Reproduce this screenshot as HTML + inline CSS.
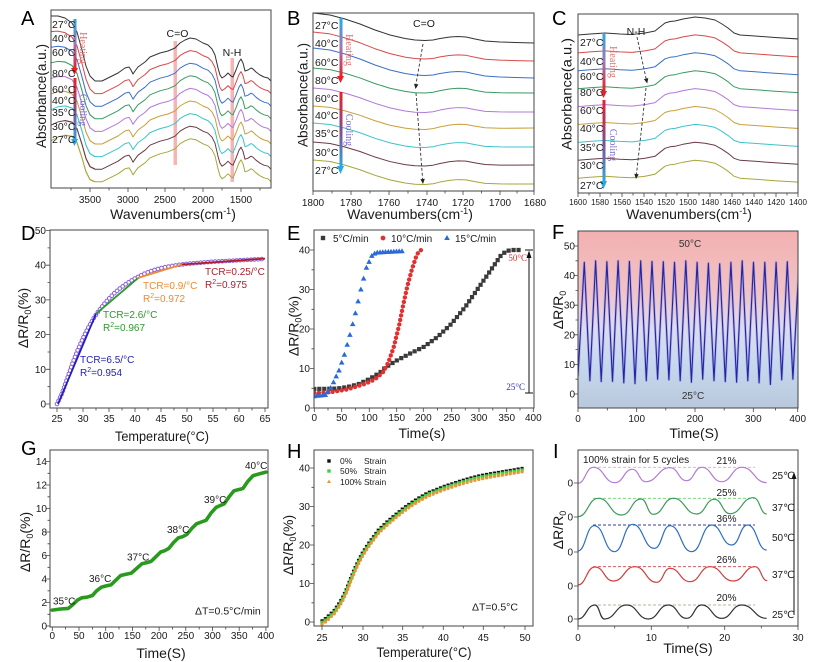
<!DOCTYPE html>
<html><head><meta charset="utf-8">
<style>
html,body{margin:0;padding:0;background:#fff;width:832px;height:662px;overflow:hidden}
svg{display:block}
text{font-family:"Liberation Sans",Arial,sans-serif;fill:#1a1a1a}
.tk{font-size:10px}
.tk8{font-size:8px}
.ax{font-size:14px}
.L{font-size:20px;fill:#000}
.lb{font-size:10.5px}
.sr{font-family:"Liberation Serif",serif}
.dg{font-family:"Liberation Sans","DejaVu Sans",sans-serif}
</style></head><body>
<svg width="832" height="662" viewBox="0 0 832 662" xmlns="http://www.w3.org/2000/svg">
<defs>
<clipPath id="cA"><rect x="51" y="10" width="220" height="178"/></clipPath>
<clipPath id="cB"><rect x="313" y="13" width="221" height="178"/></clipPath>
<clipPath id="cC"><rect x="578" y="14" width="220" height="179"/></clipPath>
<clipPath id="cD"><rect x="50" y="230" width="218" height="178"/></clipPath>
<clipPath id="cE"><rect x="314" y="230" width="220" height="178"/></clipPath>
<clipPath id="cF"><rect x="578" y="231" width="220" height="177"/></clipPath>
<clipPath id="cG"><rect x="50" y="450" width="218" height="177"/></clipPath>
<clipPath id="cH"><rect x="314" y="450" width="219" height="176"/></clipPath>
<clipPath id="cI"><rect x="578" y="450" width="220" height="176"/></clipPath>
<linearGradient id="gHeat" x1="0" y1="0" x2="0" y2="1"><stop offset="0" stop-color="#2aa8e6"/><stop offset="0.5" stop-color="#9a7ab8"/><stop offset="1" stop-color="#e8202a"/></linearGradient>
<linearGradient id="gCool" x1="0" y1="0" x2="0" y2="1"><stop offset="0" stop-color="#e8202a"/><stop offset="0.5" stop-color="#8a4a8a"/><stop offset="1" stop-color="#2aa8e6"/></linearGradient>
<linearGradient id="gF" x1="0" y1="0" x2="0" y2="1"><stop offset="0" stop-color="#f2b0b0"/><stop offset="0.35" stop-color="#f1c3c6"/><stop offset="0.55" stop-color="#dddcee"/><stop offset="0.75" stop-color="#c7d8ee"/><stop offset="1" stop-color="#b9c8dc"/></linearGradient>
<marker id="tri" viewBox="-3 -3 6 6" markerWidth="6" markerHeight="6" markerUnits="userSpaceOnUse" refX="0" refY="0" orient="0"><polygon points="0,-3 -2.8,2 2.8,2" fill="#2a6ad8"/></marker>
<path id="paL" d="M51,16 L58,16 65,18 72,23 77,32 82,50 86,66 90,76 95,81"/>
<path id="paR" d="M95,81 L102,81 110,77 118,73 125,68 129,67 131,70 133,74 135,71 138,67 145,62 150,57 155,55 160,53 168,51 175,48 180,43 185,40 190,38 196,39 203,43 208,45 212,49 215,55 218,68 220,75 222,78 225,76 228,73 231,76 233,77 236,70 239,62 241,59 243,63 245,71 248,70 251,68 253,69 256,72 260,75 264,77 268,78 272,82"/>
<path id="pb" d="M313,13 L330,15 345,19 360,24 375,30 390,35 405,38.5 415,40 425,40.5 433,40 440,38.5 450,37 458,36.5 466,37 475,39 485,41 500,42 515,42.5 535,43"/>
<path id="pc" d="M578,35 L590,34 605,33 620,34 632,34.5 645,33 655,31 660,27 665,23 670,21.5 675,21 683,19 695,17 705,18 715,20 722,24 728,28 734,33 740,35 755,36 775,37.5 799,39"/>
<path id="pd" d="M57,404 L62.2,392.9 67.4,378 72.6,363.1 77.8,349.9 83,338.1 88.2,327.7 93.4,318.6 98.6,311 103.8,304.4 109,298.5 114.2,293.3 119.4,288.8 124.6,285 129.8,281.5 135,278.4 145.4,273.2 155.8,269.4 166.2,266.9 176.6,265.2 187,263.8 213,261.7 239,260.3 265,258.9"/>
<path id="ph" d="M322,620.8 L326.1,618.2 330.1,614.3 334.2,610.5 338.2,604.7 342.3,598.1 346.4,589.3 350.4,578.9 354.5,568.9 358.5,560.4 362.6,552.7 366.7,546.2 370.7,540.4 374.8,535 378.8,529.6 387,521.9 395.1,515 403.2,508.4 411.3,502.7 419.4,497.6 427.6,493 443.8,486.5 460,481.1 476.3,476.5 492.5,473.4 508.8,470.7 525,468"/>
<polyline id="fw" points="578,376.2 584.3,262.3 589.9,380.7 595.6,260.8 601.2,381.6 606.9,261.7 612.5,381.3 618.1,260.8 623.8,382.8 629.4,261.4 635,383.6 640.7,260.8 646.3,380.7 652,261.4 657.6,379.2 663.3,261.7 668.9,379.8 674.5,262.3 680.2,380.7 685.8,260.8 691.4,382.2 697.1,262.3 702.7,379.2 708.4,263.2 714,380.7 719.7,263.8 725.3,381.6 730.9,262.3 736.6,382.2 742.2,260.8 747.8,380.7 753.5,262.3 759.1,382.8 764.8,262.3 770.4,384.5 776.1,262.3 781.7,379.8 787.3,261.7 792.9,379.2 799,263.8"/>
</defs>

<rect x="578" y="231" width="220" height="177" fill="url(#gF)"/>

<!-- ticks -->
<path fill="none" stroke="#444" stroke-width="0.8" d="
M90,188v4M128,188v4M165,188v4M203,188v4M241,188v4
M71,188v2.5M109,188v2.5M146.5,188v2.5M184,188v2.5M222,188v2.5M260,188v2.5
M313,191v4M351,191v4M389,191v4M427,191v4M463,191v4M500,191v4M534,191v4
M332,191v2.5M370,191v2.5M408,191v2.5M445,191v2.5M481.5,191v2.5M517,191v2.5
M578,193v4M600,193v4M622,193v4M644,193v4M666,193v4M688,193v4M710,193v4M732,193v4M754,193v4M776,193v4M798,193v4
M589,193v2.5M611,193v2.5M633,193v2.5M655,193v2.5M677,193v2.5M699,193v2.5M721,193v2.5M743,193v2.5M765,193v2.5M787,193v2.5
M57,408v4M83,408v4M109,408v4M135,408v4M161,408v4M187,408v4M213,408v4M239,408v4M265,408v4
M70,408v2.5M96,408v2.5M122,408v2.5M148,408v2.5M174,408v2.5M200,408v2.5M226,408v2.5M252,408v2.5
M50,404h-4M50,369.3h-4M50,334.6h-4M50,299.9h-4M50,265.2h-4M50,230.5h-4
M50,386.7h-2.5M50,352h-2.5M50,317.3h-2.5M50,282.6h-2.5M50,247.9h-2.5
M314.3,408v4M341.7,408v4M369.3,408v4M396.7,408v4M423.3,408v4M451.7,408v4M479,408v4M506.7,408v4M533.3,408v4
M328,408v2.5M355.5,408v2.5M383,408v2.5M410,408v2.5M437.5,408v2.5M465.3,408v2.5M492.8,408v2.5M520,408v2.5
M314,408h-4M314,368.5h-4M314,329h-4M314,289.5h-4M314,250h-4
M314,388.3h-2.5M314,348.8h-2.5M314,309.3h-2.5M314,269.8h-2.5
M578,408v4M636.7,408v4M695,408v4M753.3,408v4M797.7,408v4
M607.3,408v2.5M665.8,408v2.5M724.2,408v2.5M775.5,408v2.5
M578,394h-4M578,364.4h-4M578,334.8h-4M578,305.2h-4M578,275.6h-4M578,246h-4
M578,379.2h-2.5M578,349.6h-2.5M578,320h-2.5M578,290.4h-2.5M578,260.8h-2.5
M52.3,627v4M79,627v4M105.7,627v4M132.4,627v4M159.1,627v4M185.8,627v4M212.5,627v4M239.2,627v4M265.9,627v4
M65.6,627v2.5M92.4,627v2.5M119,627v2.5M145.8,627v2.5M172.4,627v2.5M199.2,627v2.5M225.8,627v2.5M252.6,627v2.5
M50,626h-4M50,602.5h-4M50,579h-4M50,555.5h-4M50,532h-4M50,508.5h-4M50,485h-4M50,461.5h-4
M50,614.3h-2.5M50,590.8h-2.5M50,567.3h-2.5M50,543.8h-2.5M50,520.3h-2.5M50,496.8h-2.5M50,473.3h-2.5
M322,626v4M363,626v4M402.7,626v4M443.3,626v4M483.3,626v4M525,626v4
M342.5,626v2.5M382.8,626v2.5M423,626v2.5M463.3,626v2.5M504.2,626v2.5
M314,622h-4M314,583.5h-4M314,545h-4M314,506.5h-4M314,468h-4
M314,602.8h-2.5M314,564.3h-2.5M314,525.8h-2.5M314,487.3h-2.5
M578,626v4M651.3,626v4M724.7,626v4M798,626v4
M614.7,626v2.5M688,626v2.5M761.3,626v2.5
M578,483h-4M578,517h-4M578,552h-4M578,586h-4M578,619h-4"/>

<!-- ===== A curves ===== -->
<g clip-path="url(#cA)" fill="none" stroke-width="1" stroke-linejoin="round">
<rect x="173.5" y="41" width="3.5" height="124" fill="#f5b5b5"/>
<rect x="230.5" y="58" width="3.5" height="124" fill="#f5b5b5"/>
<use href="#paR" stroke="#a8a63a" transform="translate(0,100.8)"/>
<use href="#paL" stroke="#a8a63a" transform="matrix(1,-0.545455,0,1,0,152.618)"/>
<use href="#paR" stroke="#6b3a44" transform="translate(0,88.2)"/>
<use href="#paL" stroke="#6b3a44" transform="matrix(1,-0.477273,0,1,0,133.541)"/>
<use href="#paR" stroke="#3cc4cc" transform="translate(0,75.6)"/>
<use href="#paL" stroke="#3cc4cc" transform="matrix(1,-0.409091,0,1,0,114.464)"/>
<use href="#paR" stroke="#c9a03c" transform="translate(0,63)"/>
<use href="#paL" stroke="#c9a03c" transform="matrix(1,-0.340909,0,1,0,95.386)"/>
<use href="#paR" stroke="#b27ad8" transform="translate(0,50.4)"/>
<use href="#paL" stroke="#b27ad8" transform="matrix(1,-0.272727,0,1,0,76.309)"/>
<use href="#paR" stroke="#3a9a62" transform="translate(0,37.8)"/>
<use href="#paL" stroke="#3a9a62" transform="matrix(1,-0.204545,0,1,0,57.232)"/>
<use href="#paR" stroke="#3b6fc8" transform="translate(0,25.2)"/>
<use href="#paL" stroke="#3b6fc8" transform="matrix(1,-0.136364,0,1,0,38.155)"/>
<use href="#paR" stroke="#d84a4a" transform="translate(0,12.6)"/>
<use href="#paL" stroke="#d84a4a" transform="matrix(1,-0.068182,0,1,0,19.077)"/>
<use href="#paR" stroke="#333333"/>
<use href="#paL" stroke="#333333"/>
</g>

<!-- ===== B curves ===== -->
<g clip-path="url(#cB)" fill="none" stroke-width="1" stroke-linejoin="round">
<use href="#pb" stroke="#a8a63a" transform="matrix(1,-0.027149,0,1,0,155.498)"/>
<use href="#pb" stroke="#6b3a44" transform="matrix(1,-0.031674,0,1,0,138.914)"/>
<use href="#pb" stroke="#3cc4cc" transform="matrix(1,-0.027149,0,1,0,118.498)"/>
<use href="#pb" stroke="#c9a03c" transform="matrix(1,-0.036199,0,1,0,104.33)"/>
<use href="#pb" stroke="#b27ad8" transform="matrix(1,-0.027149,0,1,0,83.498)"/>
<use href="#pb" stroke="#3a9a62" transform="matrix(1,-0.022624,0,1,0,62.081)"/>
<use href="#pb" stroke="#3b6fc8" transform="translate(0,35)"/>
<use href="#pb" stroke="#d84a4a" transform="matrix(1,-0.004525,0,1,0,20.416)"/>
<use href="#pb" stroke="#333333"/>
<path d="M423,44L416,84" stroke="#333" stroke-width="0.9" stroke-dasharray="3,2"/>
<polygon points="415.5,89 414.1,83.7 418.5,84.5" fill="#222" stroke="none"/>
<path d="M416,93L422.6,179" stroke="#333" stroke-width="0.9" stroke-dasharray="3,2"/>
<polygon points="423,184 420.4,179.2 424.8,178.8" fill="#222" stroke="none"/>
</g>

<!-- ===== C curves ===== -->
<g clip-path="url(#cC)" fill="none" stroke-width="1" stroke-linejoin="round">
<use href="#pc" stroke="#a8a63a" transform="translate(0,143.2)"/>
<use href="#pc" stroke="#6b3a44" transform="translate(0,125.3)"/>
<use href="#pc" stroke="#3cc4cc" transform="translate(0,107.4)"/>
<use href="#pc" stroke="#c9a03c" transform="translate(0,89.5)"/>
<use href="#pc" stroke="#b27ad8" transform="translate(0,71.6)"/>
<use href="#pc" stroke="#3a9a62" transform="translate(0,53.7)"/>
<use href="#pc" stroke="#3b6fc8" transform="translate(0,35.8)"/>
<use href="#pc" stroke="#d84a4a" transform="translate(0,17.9)"/>
<use href="#pc" stroke="#333333"/>
<path d="M637,37L646.1,78.6" stroke="#333" stroke-width="0.9" stroke-dasharray="3,2"/>
<polygon points="647.2,83.5 643.9,79.1 648.3,78.1" fill="#222" stroke="none"/>
<path d="M646,88L636.5,174" stroke="#333" stroke-width="0.9" stroke-dasharray="3,2"/>
<polygon points="636,179 634.3,173.8 638.7,174.2" fill="#222" stroke="none"/>
</g>

<!-- ===== D data ===== -->
<g clip-path="url(#cD)" fill="none">
<use href="#pd" stroke="#8a60d8" stroke-width="4.6" stroke-linecap="round" stroke-dasharray="0 3.6"/>
<use href="#pd" stroke="#ffffff" stroke-width="2.6" stroke-linecap="round" stroke-dasharray="0 3.6"/>
<line x1="58" y1="404" x2="96" y2="313.8" stroke="#2020c0" stroke-width="1.8"/>
<line x1="96" y1="313.8" x2="137.6" y2="278.4" stroke="#2a9a2a" stroke-width="1.8"/>
<line x1="137.6" y1="278" x2="181.8" y2="264.5" stroke="#f08a30" stroke-width="1.8"/>
<line x1="181.8" y1="264.5" x2="265" y2="258.6" stroke="#b01c2c" stroke-width="1.8"/>
</g>

<!-- ===== E data ===== -->
<g clip-path="url(#cE)" fill="none">
<path d="M314.3,389 L336.2,388.6 347.2,387.1 358.1,384.3 369.1,379.2 380.1,372.5 385.5,367.3 396.5,360.6 410.2,353.5 423.9,346.8 437.6,336.9 451.3,323.9 465,307.3 478.7,287.5 489.7,271.7 500.6,255.9 506.1,251.2 511.6,250 519.8,250" stroke="#3a3a3a" stroke-width="4.2" stroke-linecap="square" stroke-dasharray="0 5"/>
<path d="M314.3,393 L330.7,392.2 347.2,389.4 363.6,384.3 374.6,379.6 382.8,372.5 388.3,362.6 393.8,346.8 399.2,325 403.1,305.3 407.5,285.6 411.8,269.8 415.7,257.9 418.4,252 421.2,250" stroke="#e03030" stroke-width="4.4" stroke-linecap="round" stroke-dasharray="0 4.6"/>
<polyline stroke="none" marker-start="url(#tri)" marker-mid="url(#tri)" marker-end="url(#tri)" points="314.3,396.2 317,395.8 319.8,395.6 322.5,395.3 325.3,395 328,392 330.7,388 333.5,382.3 336.2,376.4 339,370.5 341.7,362.6 344.4,354.7 347.2,344.8 349.9,334.9 352.7,324.1 355.4,313.2 358.1,301.4 360.9,289.5 363.6,278.6 366.4,267.8 369.1,261.9 371.8,255.9 374.6,253.6 377.3,252.6 380.1,252.4 382.8,252.2 385.5,252 388.3,251.9 391,251.7 393.8,251.6 396.5,251.5 399.2,251.3 402,251.2"/>
</g>
<rect x="320.8" y="235.8" width="4.4" height="4.4" fill="#3a3a3a"/>
<circle cx="383" cy="238" r="2.4" fill="#e03030"/>
<polygon points="447,235 444.2,240 449.8,240" fill="#2a6ad8"/>
<g stroke="#111" stroke-width="1">
<line x1="529" y1="256" x2="529" y2="393"/>
<line x1="525" y1="250" x2="533" y2="250"/>
<line x1="525" y1="393" x2="533" y2="393"/>
</g>
<polygon points="529,250.5 526.5,258 531.5,258" fill="#111"/>

<!-- ===== F wave ===== -->
<g clip-path="url(#cF)" fill="none" stroke-linejoin="round">
<use href="#fw" stroke="#8a8ae0" stroke-width="2.6" stroke-opacity="0.45"/>
<use href="#fw" stroke="#2424a0" stroke-width="1.1"/>
</g>

<!-- ===== G curve ===== -->
<g clip-path="url(#cG)" fill="none">
<polyline points="52.3,610.1 60.3,609 68.3,608.4 72.6,604.9 77.4,600.2 81.7,597.8 87,597.2 92.4,595.5 96.6,590.8 101.4,587.2 105.7,586 111,584.9 115.8,580.2 120.7,575.5 126,574.3 131.3,573.1 136.7,568.4 142,563.7 146.8,562.6 151.1,561.4 155.9,556.7 160.7,552 164.4,550.8 168.7,548.5 173.5,542.6 178.3,537.9 182.6,536.7 186.9,534.4 191.7,528.5 196.5,523.8 201.3,522 206.1,520.3 210.9,513.2 216.2,507.3 220,505.6 224.2,503.8 229.1,496.8 233.9,490.9 238.1,489.7 242.9,488.5 247.7,481.5 253.1,475.6 259.5,473.8 265.9,472.1" stroke="#2a9a1e" stroke-width="3.6" stroke-linecap="round" stroke-linejoin="round"/>
</g>

<!-- ===== H data ===== -->
<g clip-path="url(#cH)" fill="none">
<use href="#ph" stroke="#111" stroke-width="3.2" stroke-linecap="square" stroke-dasharray="0 4"/>
<use href="#ph" stroke="#3ad33a" stroke-width="3.2" stroke-linecap="square" stroke-dasharray="0 4" transform="translate(0,1.5)"/>
<use href="#ph" stroke="#e8963a" stroke-width="3.4" stroke-linecap="round" stroke-dasharray="0 4" transform="translate(0,3.3)"/>
</g>
<rect x="327.3" y="459.3" width="3.4" height="3.4" fill="#111"/>
<rect x="327.3" y="469.3" width="3.4" height="3.4" fill="#3ad33a"/>
<polygon points="329,479.5 327,483 331,483" fill="#e8963a"/>

<!-- ===== I curves ===== -->
<g clip-path="url(#cI)">
<g stroke-width="0.9" stroke-dasharray="3,2">
<line x1="593" y1="467.3" x2="755" y2="467.3" stroke="#d3a8ec"/>
<line x1="593" y1="498.3" x2="755" y2="498.3" stroke="#66d466"/>
<line x1="593" y1="525" x2="755" y2="525" stroke="#3a3aa0"/>
<line x1="593" y1="566.7" x2="755" y2="566.7" stroke="#d04040"/>
<line x1="593" y1="605" x2="755" y2="605" stroke="#b0b8a0"/>
</g>
<g transform="translate(555,435) scale(0.333333)" fill="none" stroke-width="3.6">
<path stroke="#b27ad8" d="M68,145 C91.5,145 91.5,97 115,97 C147.5,97 147.5,143 180,143 C206,143 206,103 232,103 C252,103 252,140 272,140 C308.5,140 308.5,98 345,98 C370,98 370,137 395,137 C417.5,137 417.5,97 440,97 C470,97 470,140 500,140 C530,140 530,97 560,97 C597.5,97 597.5,143 635,143"/>
<path stroke="#3a9a5a" d="M68,245 C99,245 99,190 130,190 C165,190 165,240 200,240 C229,240 229,192 258,192 C276.5,192 276.5,238 295,238 C325,238 325,190 355,190 C390,190 390,237 425,237 C451.5,237 451.5,193 478,193 C501.5,193 501.5,236 525,236 C560,236 560,188 595,188 C615,188 615,237 635,237"/>
<path stroke="#2f6ec2" d="M68,348 C93,348 93,272 118,272 C148,272 148,350 178,350 C205.5,350 205.5,268 233,268 C265.5,268 265.5,340 298,340 C321.5,340 321.5,272 345,272 C377.5,272 377.5,350 410,350 C440,350 440,270 470,270 C500,270 500,330 530,330 C554,330 554,270 578,270 C606.5,270 606.5,345 635,345"/>
<path stroke="#d33d3d" d="M68,450 C94,450 94,396 120,396 C147.5,396 147.5,438 175,438 C207.5,438 207.5,395 240,395 C272.5,395 272.5,442 305,442 C325,442 325,400 345,400 C375,400 375,440 405,440 C435,440 435,395 465,395 C500,395 500,438 535,438 C567.5,438 567.5,395 600,395 C618.5,395 618.5,437 637,437"/>
<path stroke="#333333" d="M68,552 C94,552 94,510 120,510 C134,510 134,552 148,552 C181.5,552 181.5,510 215,510 C247.5,510 247.5,552 280,552 C310,552 310,510 340,510 C367.5,510 367.5,550 395,550 C417.5,550 417.5,510 440,510 C470,510 470,550 500,550 C530,550 530,510 560,510 C597.5,510 597.5,550 635,550"/>
</g>
</g>
<line x1="794" y1="615" x2="794" y2="478" stroke="#111" stroke-width="1"/>
<polygon points="794,472 791.5,479 796.5,479" fill="#111"/>

<!-- frames -->
<g fill="none" stroke="#444" stroke-width="1">
<rect x="51" y="10" width="220" height="178"/>
<rect x="313" y="13" width="221" height="178"/>
<rect x="578" y="14" width="220" height="179"/>
<rect x="50" y="230" width="218" height="178"/>
<rect x="314" y="230" width="220" height="178"/>
<rect x="578" y="231" width="220" height="177"/>
<rect x="50" y="450" width="218" height="177"/>
<rect x="314" y="450" width="219" height="176"/>
<rect x="578" y="450" width="220" height="176"/>
</g>

<!-- panel letters -->
<text class="L" x="21" y="25">A</text>
<text class="L" x="287" y="25">B</text>
<text class="L" x="552" y="25">C</text>
<text class="L" x="21" y="240">D</text>
<text class="L" x="287" y="240">E</text>
<text class="L" x="552" y="239">F</text>
<text class="L" x="21" y="455">G</text>
<text class="L" x="287" y="458">H</text>
<text class="L" x="553" y="458">I</text>

<!-- ===== A ===== -->
<rect x="73.5" y="19" width="3" height="50" fill="url(#gHeat)"/>
<polygon points="71,68 78,68 74.5,75" fill="#e8202a"/>
<rect x="73.5" y="78" width="3" height="62" fill="url(#gCool)"/>
<polygon points="71,139 78,139 74.5,146" fill="#2aa8e6"/>
<text class="sr" font-size="10" style="fill:#e07070" transform="translate(80,48) rotate(90)" text-anchor="middle">Heating</text>
<text class="sr" font-size="10" style="fill:#7a6ad0" transform="translate(80,110) rotate(90)" text-anchor="middle">Cooling</text>
<g class="lb">
<text x="52" y="28">27°C</text><text x="52" y="42">40°C</text><text x="52" y="56">60°C</text>
<text x="52" y="77">80°C</text><text x="52" y="93">60°C</text><text x="52" y="104">40°C</text>
<text x="52" y="116">35°C</text><text x="52" y="130">30°C</text><text x="52" y="143">27°C</text>
</g>
<text class="lb" x="177.5" y="37" text-anchor="middle">C=O</text>
<text class="lb" x="232" y="56" text-anchor="middle">N-H</text>
<g class="tk" text-anchor="middle">
<text x="90" y="203">3500</text><text x="128" y="203">3000</text><text x="165" y="203">2500</text><text x="203" y="203">2000</text><text x="241" y="203">1500</text>
</g>
<text class="ax" x="173" y="219" text-anchor="middle">Wavenumbers(cm<tspan font-size="9" dy="-5">-1</tspan><tspan dy="5">)</tspan></text>
<text class="ax" transform="translate(46,96) rotate(-90)" text-anchor="middle" textLength="104" lengthAdjust="spacingAndGlyphs">Absorbance(a.u.)</text>

<!-- ===== B ===== -->
<rect x="339.5" y="18" width="3" height="58" fill="url(#gHeat)"/>
<polygon points="337,76 344,76 340.5,83" fill="#e8202a"/>
<rect x="339.5" y="92" width="3" height="75" fill="url(#gCool)"/>
<polygon points="337,166 344,166 340.5,174" fill="#2aa8e6"/>
<text class="sr" font-size="10" style="fill:#e07070" transform="translate(346,50) rotate(90)" text-anchor="middle">Heating</text>
<text class="sr" font-size="10" style="fill:#7a6ad0" transform="translate(346,130) rotate(90)" text-anchor="middle">Cooling</text>
<g class="lb">
<text x="315" y="29">27°C</text><text x="315" y="47">40°C</text><text x="315" y="66">60°C</text>
<text x="315" y="84">80°C</text><text x="315" y="102">60°C</text><text x="315" y="119">40°C</text>
<text x="315" y="137">35°C</text><text x="315" y="156">30°C</text><text x="315" y="174">27°C</text>
</g>
<text class="lb" x="424" y="27" text-anchor="middle">C=O</text>
<g class="tk" text-anchor="middle">
<text x="313" y="206">1800</text><text x="351" y="206">1780</text><text x="389" y="206">1760</text><text x="427" y="206">1740</text><text x="463" y="206">1720</text><text x="500" y="206">1700</text><text x="535" y="206">1680</text>
</g>
<text class="ax" x="410" y="219" text-anchor="middle">Wavenumbers(cm<tspan font-size="9" dy="-5">-1</tspan><tspan dy="5">)</tspan></text>
<text class="ax" transform="translate(307.5,95) rotate(-90)" text-anchor="middle" textLength="104" lengthAdjust="spacingAndGlyphs">Absorbance(a.u.)</text>

<!-- ===== C ===== -->
<rect x="602.5" y="33" width="3" height="58" fill="url(#gHeat)"/>
<polygon points="600,91 607,91 603.5,98" fill="#e8202a"/>
<rect x="602.5" y="100" width="3" height="82" fill="url(#gCool)"/>
<polygon points="600,181 607,181 603.5,189" fill="#2aa8e6"/>
<text class="sr" font-size="10" style="fill:#e07070" transform="translate(610,62) rotate(90)" text-anchor="middle">Heating</text>
<text class="sr" font-size="10" style="fill:#7a6ad0" transform="translate(610,145) rotate(90)" text-anchor="middle">Cooling</text>
<g class="lb">
<text x="580" y="46">27°C</text><text x="580" y="65">40°C</text><text x="580" y="80">60°C</text>
<text x="580" y="96">80°C</text><text x="580" y="114">60°C</text><text x="580" y="132">40°C</text>
<text x="580" y="151">35°C</text><text x="580" y="169">30°C</text><text x="580" y="189">27°C</text>
</g>
<text class="lb" x="636" y="35" text-anchor="middle">N-H</text>
<g class="tk8" text-anchor="middle">
<text x="578" y="205">1600</text><text x="600" y="205">1580</text><text x="622" y="205">1560</text><text x="644" y="205">1540</text><text x="666" y="205">1520</text><text x="688" y="205">1500</text><text x="710" y="205">1480</text><text x="732" y="205">1460</text><text x="754" y="205">1440</text><text x="776" y="205">1420</text><text x="798" y="205">1400</text>
</g>
<text class="ax" x="689" y="219" text-anchor="middle">Wavenumbers(cm<tspan font-size="9" dy="-5">-1</tspan><tspan dy="5">)</tspan></text>
<text class="ax" transform="translate(571.5,94) rotate(-90)" text-anchor="middle" textLength="112" lengthAdjust="spacingAndGlyphs">Absorbance(a.u.)</text>

<!-- ===== D ===== -->
<g class="tk" text-anchor="end">
<text x="46" y="407.5">0</text><text x="46" y="372.8">10</text><text x="46" y="338.1">20</text><text x="46" y="303.4">30</text><text x="46" y="268.7">40</text><text x="46" y="234">50</text>
</g>
<g class="tk" text-anchor="middle">
<text x="57" y="422">25</text><text x="83" y="422">30</text><text x="109" y="422">35</text><text x="135" y="422">40</text><text x="161" y="422">45</text><text x="187" y="422">50</text><text x="213" y="422">55</text><text x="239" y="422">60</text><text x="265" y="422">65</text>
</g>
<text class="ax" x="162" y="441" text-anchor="middle" textLength="94" lengthAdjust="spacingAndGlyphs">Temperature(°C)</text>
<text class="ax" transform="translate(28,318) rotate(-90)" text-anchor="middle">ΔR/R<tspan font-size="9" dy="3">0</tspan><tspan dy="-3">(%)</tspan></text>
<g font-size="10">
<text x="80" y="363" style="fill:#2424b0">TCR=6.5/°C</text>
<text x="80" y="376" style="fill:#2424b0">R<tspan font-size="7" dy="-4">2</tspan><tspan dy="4">=0.954</tspan></text>
<text x="103" y="318" style="fill:#2a9a2a">TCR=2.6/°C</text>
<text x="103" y="331" style="fill:#2a9a2a">R<tspan font-size="7" dy="-4">2</tspan><tspan dy="4">=0.967</tspan></text>
<text x="143" y="289" style="fill:#f08a30">TCR=0.9/°C</text>
<text x="143" y="302" style="fill:#f08a30">R<tspan font-size="7" dy="-4">2</tspan><tspan dy="4">=0.972</tspan></text>
<text x="205" y="275" style="fill:#b01c2c">TCR=0.25/°C</text>
<text x="205" y="288" style="fill:#b01c2c">R<tspan font-size="7" dy="-4">2</tspan><tspan dy="4">=0.975</tspan></text>
</g>

<!-- ===== E ===== -->
<g class="tk" text-anchor="end">
<text x="310" y="411.5">0</text><text x="310" y="372">10</text><text x="310" y="332.5">20</text><text x="310" y="293">30</text><text x="310" y="253.5">40</text>
</g>
<g class="tk" text-anchor="middle">
<text x="314.3" y="421">0</text><text x="341.7" y="421">50</text><text x="369.3" y="421">100</text><text x="396.7" y="421">150</text><text x="423.3" y="421">200</text><text x="451.7" y="421">250</text><text x="479" y="421">300</text><text x="506.7" y="421">350</text><text x="533.3" y="421">400</text>
</g>
<text class="ax" x="422" y="438" text-anchor="middle">Time(s)</text>
<text class="ax" transform="translate(298.5,326) rotate(-90)" text-anchor="middle">ΔR/R<tspan font-size="9" dy="3">0</tspan><tspan dy="-3">(%)</tspan></text>
<g font-size="10">
<text x="333" y="242">5°C/min</text>
<text x="391" y="242">10°C/min</text>
<text x="455" y="242">15°C/min</text>
</g>
<text class="sr" font-size="9" x="527" y="261" text-anchor="end" style="fill:#d03030">50°C</text>
<text class="sr" font-size="9" x="525" y="390" text-anchor="end" style="fill:#3030c0">25°C</text>

<!-- ===== F ===== -->
<g class="tk" text-anchor="end">
<text x="575" y="397.5">0</text><text x="575" y="368">10</text><text x="575" y="338.3">20</text><text x="575" y="308.7">30</text><text x="575" y="279">40</text><text x="575" y="249.5">50</text>
</g>
<g class="tk" text-anchor="middle">
<text x="578" y="422">0</text><text x="636.7" y="422">100</text><text x="695" y="422">200</text><text x="753.3" y="422">300</text><text x="797.7" y="422">400</text>
</g>
<text class="ax" x="694" y="438" text-anchor="middle">Time(S)</text>
<text class="ax" transform="translate(563,310) rotate(-90)" text-anchor="middle">ΔR/R<tspan font-size="9" dy="3">0</tspan></text>
<text font-size="10" x="690" y="247" text-anchor="middle" style="fill:#333">50°C</text>
<text font-size="10" x="693" y="399" text-anchor="middle" style="fill:#333">25°C</text>

<!-- ===== G ===== -->
<g class="tk" text-anchor="end">
<text x="47" y="629.5">0</text><text x="47" y="606">2</text><text x="47" y="582.5">4</text><text x="47" y="559">6</text><text x="47" y="535.5">8</text><text x="47" y="512">10</text><text x="47" y="488.5">12</text><text x="47" y="465">14</text>
</g>
<g class="tk" text-anchor="middle">
<text x="52.3" y="639">0</text><text x="79" y="639">50</text><text x="105.7" y="639">100</text><text x="132.4" y="639">150</text><text x="159.1" y="639">200</text><text x="185.8" y="639">250</text><text x="212.5" y="639">300</text><text x="239.2" y="639">350</text><text x="265.9" y="639">400</text>
</g>
<text class="ax" x="161" y="658" text-anchor="middle">Time(S)</text>
<text class="ax" transform="translate(30,542) rotate(-90)" text-anchor="middle">ΔR/R<tspan font-size="9" dy="3">0</tspan><tspan dy="-3">(%)</tspan></text>
<g font-size="10">
<text x="53" y="604.5">35°C</text><text x="89" y="582">36°C</text><text x="127" y="560.5">37°C</text>
<text x="167" y="533">38°C</text><text x="204" y="503">39°C</text><text x="245" y="469">40°C</text>
</g>
<text font-size="10.5" x="195" y="614.5">ΔT=0.5°C/min</text>

<!-- ===== H ===== -->
<g class="tk" text-anchor="end">
<text x="310" y="625.5">0</text><text x="310" y="587">10</text><text x="310" y="548.5">20</text><text x="310" y="510">30</text><text x="310" y="471.5">40</text>
</g>
<g class="tk" text-anchor="middle">
<text x="322" y="641">25</text><text x="363" y="641">30</text><text x="402.7" y="641">35</text><text x="443.3" y="641">40</text><text x="483.3" y="641">45</text><text x="525" y="641">50</text>
</g>
<text class="ax" x="424" y="657" text-anchor="middle" textLength="95" lengthAdjust="spacingAndGlyphs">Temperature(°C)</text>
<text class="ax" transform="translate(293,545) rotate(-90)" text-anchor="middle">ΔR/R<tspan font-size="9" dy="3">0</tspan><tspan dy="-3">(%)</tspan></text>
<g font-size="8.5">
<text x="340" y="464">0%</text><text x="364" y="464">Strain</text>
<text x="340" y="474">50%</text><text x="364" y="474">Strain</text>
<text x="340" y="485">100%</text><text x="364" y="485">Strain</text>
</g>
<text font-size="10.5" x="472" y="610.5">ΔT=0.5°C</text>

<!-- ===== I ===== -->
<g class="tk" text-anchor="end">
<text x="573" y="486.5">0</text><text x="573" y="520.5">0</text><text x="573" y="555.5">0</text><text x="573" y="589.5">0</text><text x="573" y="622.5">0</text>
</g>
<g class="tk" text-anchor="middle">
<text x="578" y="641">0</text><text x="651.3" y="641">10</text><text x="724.7" y="641">20</text><text x="798" y="641">30</text>
</g>
<text class="ax" x="688" y="653" text-anchor="middle">Time(S)</text>
<text class="ax" transform="translate(563,530) rotate(-90)" text-anchor="middle">ΔR/R<tspan font-size="9" dy="3">0</tspan></text>
<text font-size="10" x="583" y="463">100% strain for 5 cycles</text>
<g font-size="10" text-anchor="middle">
<text x="726.5" y="464">21%</text><text x="726.5" y="496">25%</text><text x="726.5" y="522">36%</text><text x="726.5" y="563">26%</text><text x="726.5" y="601">20%</text>
</g>
<g font-size="10">
<text class="dg" x="772" y="479">25℃</text><text class="dg" x="772" y="511">37℃</text><text class="dg" x="772" y="541">50℃</text><text class="dg" x="772" y="578">37℃</text><text class="dg" x="772" y="618">25℃</text>
</g>
</svg>
</body></html>
